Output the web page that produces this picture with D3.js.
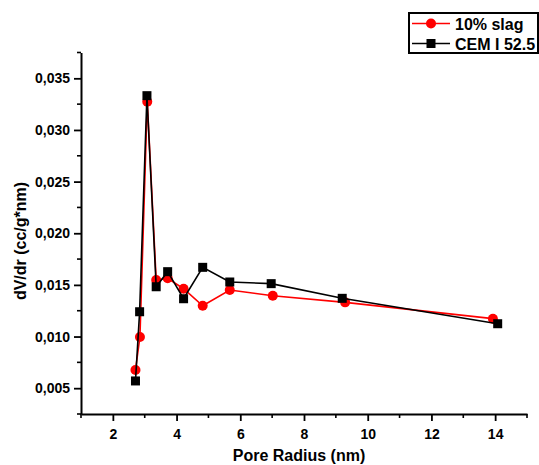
<!DOCTYPE html>
<html>
<head>
<meta charset="utf-8">
<script src="https://cdn.jsdelivr.net/npm/d3@7"></script>
<style>
  html, body { margin: 0; padding: 0; background: #fff; }
  svg { display: block; font-family: "Liberation Sans", Arial, sans-serif; font-weight: bold; }
</style>
</head>
<body>
<div id="viz"></div>
<script>
// pore radius (nm) and dV/dr (cc/g*nm)
const slagRadius = [2.71, 2.85, 3.08, 3.36, 3.72, 4.22, 4.82, 5.67, 7.02, 9.29, 13.93];
const slagValues = [0.00676, 0.00995, 0.03274, 0.01547, 0.01564, 0.01463, 0.01298, 0.01450, 0.01395, 0.01331, 0.01173];
const cemRadius = [2.71, 2.84, 3.07, 3.36, 3.72, 4.22, 4.82, 5.67, 6.97, 9.20, 14.08];
const cemValues = [0.00570, 0.01240, 0.03332, 0.01482, 0.01628, 0.01366, 0.01670, 0.01528, 0.01512, 0.01370, 0.01124];
const xTicks = [2, 4, 6, 8, 10, 12, 14];
const yTicks = [0.005, 0.010, 0.015, 0.020, 0.025, 0.030, 0.035];
const seriesNames = ['10% slag', 'CEM I 52.5'];

const width = 539;
const height = 465;
const plotLeft = 81, plotRight = 527, plotTop = 52.5, plotBottom = 414;

const svg = d3.select('#viz')
  .append('svg')
  .attr('width', width)
  .attr('height', height);

const x = d3.scaleLinear().domain([1, 15]).range([plotLeft, plotRight]);
const y = d3.scaleLinear().domain([0.0025, 0.0375]).range([plotBottom, plotTop]);

const fmt = d => d3.format('.3f')(d).replace('.', ',');

// minor ticks
const xMinor = d3.range(1, 15.01, 1).filter(v => v % 2 === 1);
const yMinor = d3.range(0.0025, 0.0376, 0.005);

svg.append('g')
  .selectAll('line')
  .data(xMinor)
  .join('line')
  .attr('x1', d => x(d)).attr('x2', d => x(d))
  .attr('y1', plotBottom).attr('y2', plotBottom + 4)
  .attr('stroke', '#000').attr('stroke-width', 1.6);

svg.append('g')
  .selectAll('line')
  .data(yMinor)
  .join('line')
  .attr('y1', d => y(d)).attr('y2', d => y(d))
  .attr('x1', plotLeft).attr('x2', plotLeft - 4)
  .attr('stroke', '#000').attr('stroke-width', 1.6);

const xAxis = svg.append('g')
  .attr('transform', `translate(0,${plotBottom})`)
  .call(d3.axisBottom(x).tickValues(xTicks).tickSize(7).tickPadding(8).tickSizeOuter(0));

const yAxis = svg.append('g')
  .attr('transform', `translate(${plotLeft},0)`)
  .call(d3.axisLeft(y).tickValues(yTicks).tickFormat(fmt).tickSize(7).tickPadding(4).tickSizeOuter(0));

[xAxis, yAxis].forEach(g => {
  g.select('.domain').attr('stroke', '#000').attr('stroke-width', 2);
  g.selectAll('.tick line').attr('stroke', '#000').attr('stroke-width', 1.8);
  g.selectAll('.tick text')
    .attr('fill', '#000')
    .style('font-size', '14px')
    .style('font-weight', 'bold')
    .style('font-family', '"Liberation Sans", Arial, sans-serif');
});

// axis titles
svg.append('text')
  .attr('x', (plotLeft + plotRight) / 2 - 5)
  .attr('y', 461)
  .attr('text-anchor', 'middle')
  .style('font-size', '16px')
  .text('Pore Radius (nm)');

svg.append('text')
  .attr('transform', 'translate(26,241) rotate(-90)')
  .attr('text-anchor', 'middle')
  .style('font-size', '16px')
  .text('dV/dr (cc/g*nm)');

// series
const line = d3.line().x(d => x(d[0])).y(d => y(d[1]));
const slag = d3.zip(slagRadius, slagValues);
const cem = d3.zip(cemRadius, cemValues);

svg.append('path')
  .datum(slag)
  .attr('d', line)
  .attr('fill', 'none')
  .attr('stroke', '#ff0000')
  .attr('stroke-width', 1.6);

svg.append('g')
  .selectAll('circle')
  .data(slag)
  .join('circle')
  .attr('cx', d => x(d[0]))
  .attr('cy', d => y(d[1]))
  .attr('r', 5)
  .attr('fill', '#ff0000');

svg.append('path')
  .datum(cem)
  .attr('d', line)
  .attr('fill', 'none')
  .attr('stroke', '#000')
  .attr('stroke-width', 1.6);

svg.append('g')
  .selectAll('rect')
  .data(cem)
  .join('rect')
  .attr('x', d => x(d[0]) - 4.5)
  .attr('y', d => y(d[1]) - 4.5)
  .attr('width', 9)
  .attr('height', 9)
  .attr('fill', '#000');

// legend
const legend = svg.append('g');
legend.append('rect')
  .attr('x', 409).attr('y', 13)
  .attr('width', 129).attr('height', 40)
  .attr('fill', '#fff')
  .attr('stroke', '#000')
  .attr('stroke-width', 2);

const rows = legend.selectAll('g.row')
  .data(seriesNames)
  .join('g')
  .attr('class', 'row')
  .attr('transform', (d, i) => `translate(0,${23.5 + i * 20})`);

rows.append('line')
  .attr('x1', 412).attr('x2', 450)
  .attr('y1', 0).attr('y2', 0)
  .attr('stroke', (d, i) => i === 0 ? '#ff0000' : '#000')
  .attr('stroke-width', 1.6);

rows.filter((d, i) => i === 0)
  .append('circle')
  .attr('cx', 431).attr('cy', 0).attr('r', 5)
  .attr('fill', '#ff0000');

rows.filter((d, i) => i === 1)
  .append('rect')
  .attr('x', 426.5).attr('y', -4.5)
  .attr('width', 9).attr('height', 9)
  .attr('fill', '#000');

rows.append('text')
  .attr('x', 455)
  .attr('y', 6)
  .style('font-size', '16px')
  .text(d => d);
</script>
</body>
</html>
